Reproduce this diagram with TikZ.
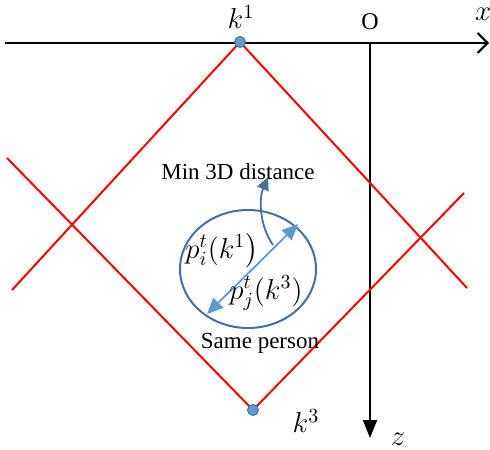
\documentclass[tikz,border=0pt]{standalone}
\usepackage{amsmath}
\usepackage{fontspec}
\setmainfont{Liberation Serif}
\usetikzlibrary{arrows.meta,positioning}
\definecolor{ptdark}{RGB}{65,113,156}
\definecolor{ptlight}{RGB}{91,155,213}
\definecolor{viewred}{RGB}{255,0,0}

\begin{document}
\begin{tikzpicture}[x=0.5pt,y=-0.5pt]
  \useasboundingbox (0,0) rectangle (490,449);
  \tikzset{
    viewline/.style={viewred, line width=1pt},
    campt/.style={circle, fill=ptlight, draw=ptdark, line width=0.5pt, inner sep=0pt, minimum size=5.5pt},
    mathlbl/.style={font=\fontsize{14.5}{17}\selectfont, inner sep=1pt},
    txtlbl/.style={font=\fontsize{11.5}{13}\selectfont, inner sep=1pt}
  }
  % axes
  \coordinate (xs) at (5,43);
  \coordinate (xe) at (489,43);
  \coordinate (zs) at (370,43);
  \coordinate (ze) at (370,438);
  \draw[line width=1pt, -{Straight Barb[length=5pt,width=10pt]}] (xs) -- (xe);
  \draw[line width=1pt, -{Triangle[length=9pt,width=7pt]}] (zs) -- (ze);
  \node[txtlbl, font=\fontsize{12}{14}\selectfont] (O) at (370,22) {O};
  \node[mathlbl] (xl) at (483,14) {$x$};
  \node[mathlbl] (zl) at (398,439) {$z$};
  % views of the two cameras
  \coordinate (ta) at (12,290);
  \coordinate (tb) at (467,288);
  \coordinate (ba) at (7,158);
  \coordinate (bb) at (464,193);
  \coordinate (k1c) at (240,42);
  \coordinate (k3c) at (253,410);
  \draw[viewline] (ta) -- (k1c) -- (tb);
  \draw[viewline] (ba) -- (k3c) -- (bb);
  \node[campt] (k1) at (k1c) {};
  \node[campt] (k3) at (k3c) {};
  \node[mathlbl] (lk1) at (241,17) {$k^{1}$};
  \node[mathlbl] (lk3) at (306,421) {$k^{3}$};
  % same person
  \draw[ptdark, line width=1pt] (248,269) ellipse [x radius=34pt, y radius=29.5pt];
  \coordinate (pa) at (207,314);
  \coordinate (pb) at (298,224);
  \coordinate (pm) at (273,245);
  \coordinate (tip) at (268,177);
  \draw[ptlight, line width=0.9pt, {Triangle[length=8pt,width=7pt]}-{Triangle[length=8pt,width=7pt]}] (pa) -- (pb);
  \draw[ptdark, line width=0.9pt, -{Triangle[length=6.5pt,width=6pt]}] (pm) .. controls (259,225) and (259,198) .. (tip);
  \node[txtlbl] (md) at (238,172) {Min 3D distance};
  \node[txtlbl] (sp) at (260,343) {Same person};
  \node[mathlbl] (pi) at (222,251) {$p_i^t(k^1\bigr)$};
  \node[mathlbl] (pj) at (266,293) {$p_j^t(k^3)$};
\end{tikzpicture}
\end{document}
